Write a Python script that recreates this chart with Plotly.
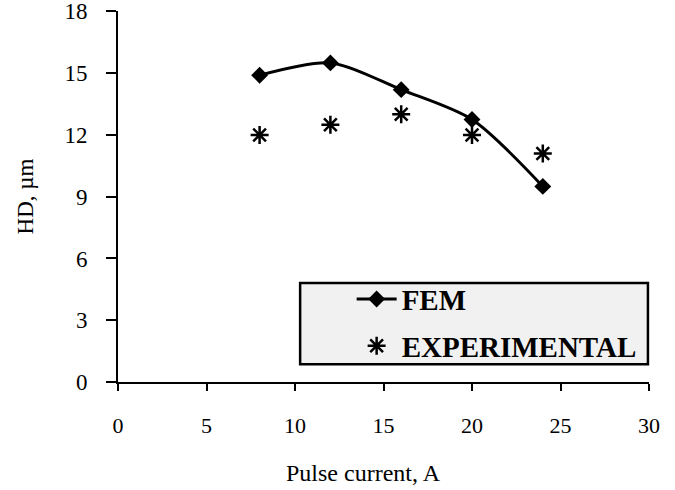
import plotly.graph_objects as go

current = [8, 12, 16, 20, 24]
fem = [14.9, 15.5, 14.2, 12.75, 9.5]
experimental = [12.0, 12.5, 13.0, 12.0, 11.1]

x_ticks = [0, 5, 10, 15, 20, 25, 30]
y_ticks = [0, 3, 6, 9, 12, 15, 18]

font_family = "Liberation Serif"

fig = go.Figure()
fig.add_trace(go.Scatter(
    x=current, y=fem, name="FEM", mode="lines+markers",
    line=dict(color="black", width=3, shape="spline", smoothing=0.8),
    marker=dict(symbol="diamond", size=13, color="black"),
    legendgroup="a",
))
fig.add_trace(go.Scatter(
    x=current, y=experimental, name="EXPERIMENTAL", mode="markers",
    marker=dict(symbol="asterisk-open", size=15, color="black",
                line=dict(color="black", width=2.5)),
    legendgroup="b",
))

# legend frame
fig.add_shape(type="rect", xref="paper", yref="paper",
              x0=0.343, x1=0.998, y0=0.048, y1=0.267,
              fillcolor="#f1f1f1", line=dict(color="black", width=2.5),
              layer="below")

# x-axis title (placed as in the reference, slightly left of centre)
fig.add_annotation(text="Pulse current, A", xref="paper", yref="paper",
                   x=0.463, y=-0.245, xanchor="center", yanchor="middle",
                   showarrow=False, font=dict(size=24, family=font_family, color="black"))

fig.update_layout(
    width=675, height=490,
    margin=dict(l=118, r=26, t=11, b=108, autoexpand=False),
    paper_bgcolor="white", plot_bgcolor="white",
    font=dict(family=font_family, color="black"),
    showlegend=True,
    legend=dict(x=0.44, y=0.292, xanchor="left", yanchor="top",
                bgcolor="rgba(0,0,0,0)", borderwidth=0,
                font=dict(family=font_family, size=29, color="black", weight="bold"),
                tracegroupgap=6, itemwidth=40),
    xaxis=dict(range=[0, 30], tickvals=x_ticks, ticks="outside", ticklen=7,
               tickwidth=2, tickcolor="black", showline=True, linecolor="black",
               linewidth=2, showgrid=False, zeroline=False, automargin=False,
               ticklabelstandoff=16,
               tickfont=dict(size=22, family=font_family)),
    yaxis=dict(range=[0, 18.02], tickvals=y_ticks, ticks="outside", ticklen=10,
               tickwidth=2, tickcolor="black", showline=True, linecolor="black",
               linewidth=2, showgrid=False, zeroline=False, automargin=False,
               ticklabelstandoff=14, ticklabeloverflow="allow",
               tickfont=dict(size=23, family=font_family),
               title=dict(text="HD, µm", font=dict(size=23, family=font_family),
                          standoff=24)),
)

fig.write_html("out.html")
